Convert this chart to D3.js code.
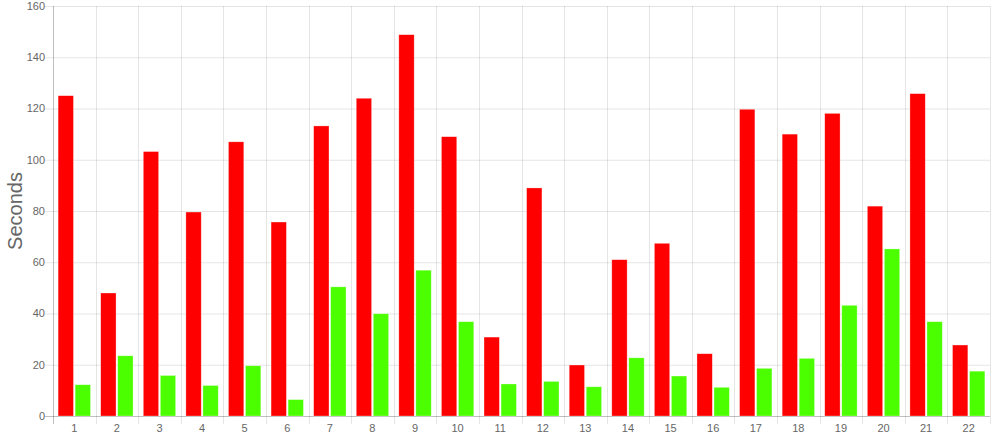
<!DOCTYPE html>
<html>
<head>
<meta charset="utf-8">
<script src="https://cdn.jsdelivr.net/npm/d3@7/dist/d3.min.js"></script>
<style>
html,body{margin:0;padding:0;background:#fff;}
svg{display:block;}
text{font-family:"Liberation Sans", Arial, sans-serif;}
</style>
</head>
<body>
<svg id="chart" width="998" height="439"></svg>
<script>
const categories = ["1","2","3","4","5","6","7","8","9","10","11","12","13","14","15","16","17","18","19","20","21","22"];
const seriesNames = ["A","B"];
const redValues = [125,48,103.2,79.6,107,75.7,113.2,124,148.8,109,30.8,89,19.9,61,67.4,24.3,119.7,110,118.1,81.9,125.8,27.7];
const greenValues = [12.2,23.5,15.8,11.9,19.6,6.4,50.4,39.9,56.9,36.8,12.5,13.5,11.4,22.7,15.6,11.2,18.6,22.5,43.2,65.2,36.8,17.5];
const yTicks = [0,20,40,60,80,100,120,140,160];
const colors = ["#ff0000","#4cff00"];
const yTitle = "Seconds";

(function(){
const svg = d3.select("#chart");
const mLeft = 53, mRight = 990, mTop = 6, mBottom = 416;

const x = d3.scaleBand().domain(categories).range([mLeft, mRight]).paddingInner(0).paddingOuter(0);
const y = d3.scaleLinear().domain([0,160]).range([mBottom, mTop]);
const inner = d3.scaleBand().domain(seriesNames).range([x.bandwidth()*0.1, x.bandwidth()*0.9]).paddingInner(0.1).paddingOuter(0.05);

const gridColor = "rgba(0,0,0,0.1)";

svg.append("g").selectAll("line").data(yTicks).join("line")
  .attr("x1", mLeft-8).attr("x2", mRight)
  .attr("y1", d=>y(d)+0.5).attr("y2", d=>y(d)+0.5)
  .attr("stroke", d=> d===0 ? "rgba(0,0,0,0.25)" : gridColor).attr("stroke-width",1);

const bounds = categories.map(c=>x(c)).concat([mRight]);
svg.append("g").selectAll("line").data(bounds).join("line")
  .attr("x1", d=>Math.round(d)+0.5).attr("x2", d=>Math.round(d)+0.5)
  .attr("y1", mTop).attr("y2", mBottom+8)
  .attr("stroke", (d,i)=> i===0 ? "rgba(0,0,0,0.25)" : gridColor).attr("stroke-width",1);

svg.append("g").selectAll("text").data(yTicks).join("text")
  .attr("x", mLeft-8).attr("y", d=>y(d)).attr("dy","0.35em")
  .attr("text-anchor","end").attr("font-size","11px").attr("fill","#666")
  .text(d=>d);

svg.append("g").selectAll("text").data(categories).join("text")
  .attr("x", d=>x(d)+x.bandwidth()/2).attr("y", 428).attr("dy","0.35em")
  .attr("text-anchor","middle").attr("font-size","11px").attr("fill","#666")
  .text(d=>d);

svg.append("text")
  .attr("transform", `translate(22,${(mTop+mBottom)/2}) rotate(-90)`)
  .attr("text-anchor","middle").attr("font-size","20px").attr("fill","#666")
  .text(yTitle);

const data = categories.map((c,i)=>({c, vals:[redValues[i], greenValues[i]]}));
const g = svg.append("g");
data.forEach(d=>{
  d.vals.forEach((v,j)=>{
    g.append("rect")
      .attr("x", x(d.c)+inner(seriesNames[j]))
      .attr("width", inner.bandwidth())
      .attr("y", y(v))
      .attr("height", y(0)-y(v))
      .attr("fill", colors[j])
      .attr("stroke", "rgba(255,255,255,0.5)").attr("stroke-width",0.6);
  });
});
})();
</script>
</body>
</html>
